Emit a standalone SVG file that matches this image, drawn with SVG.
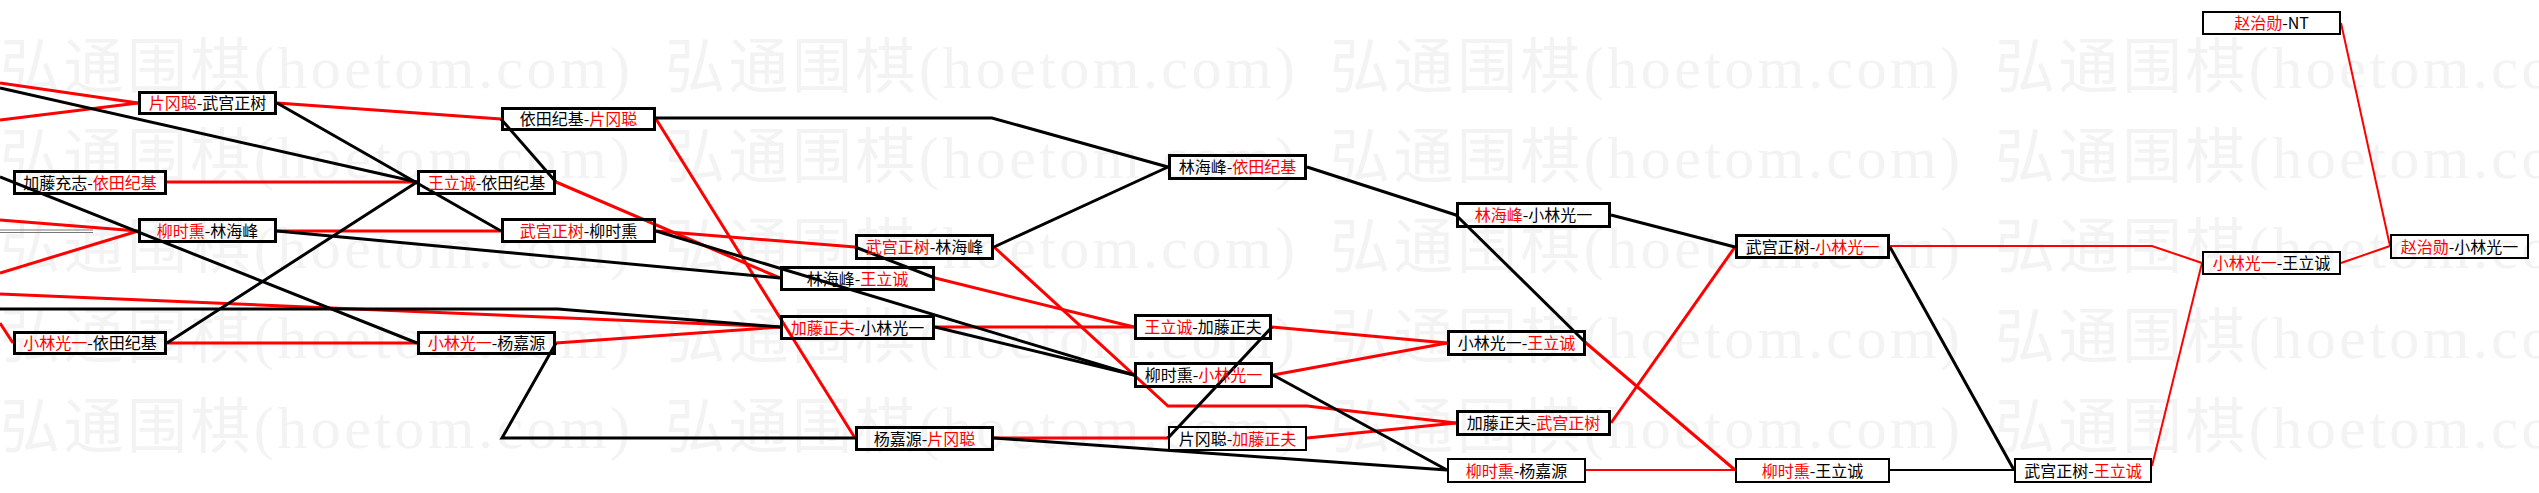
<svg xmlns="http://www.w3.org/2000/svg" width="2539" height="493" viewBox="0 0 2539 493">
<style>
.wm{font-family:"Liberation Serif","Noto Sans CJK SC",serif;font-size:60px;fill:#f3f3f3}
.box{fill:none;stroke:#000;stroke-width:3}
.box.thin{stroke-width:2}
.lb{font-family:"Noto Sans CJK SC","Noto Sans",sans-serif;font-size:16px;fill:#000;text-anchor:middle}
.r{fill:#ff0000}
.cr{fill:none;stroke:#ff0000;stroke-width:3}
.ck{fill:none;stroke:#000;stroke-width:3}
.th{stroke-width:2}
.gr{stroke:#777;stroke-width:1;fill:none}
</style>
<rect width="2539" height="493" fill="#ffffff"/>
<g id="watermark">
<text class="wm" x="0" y="88" textLength="630" lengthAdjust="spacing">弘通围棋(hoetom.com)</text>
<text class="wm" x="665" y="88" textLength="630" lengthAdjust="spacing">弘通围棋(hoetom.com)</text>
<text class="wm" x="1330" y="88" textLength="630" lengthAdjust="spacing">弘通围棋(hoetom.com)</text>
<text class="wm" x="1995" y="88" textLength="630" lengthAdjust="spacing">弘通围棋(hoetom.com)</text>
<text class="wm" x="0" y="178" textLength="630" lengthAdjust="spacing">弘通围棋(hoetom.com)</text>
<text class="wm" x="665" y="178" textLength="630" lengthAdjust="spacing">弘通围棋(hoetom.com)</text>
<text class="wm" x="1330" y="178" textLength="630" lengthAdjust="spacing">弘通围棋(hoetom.com)</text>
<text class="wm" x="1995" y="178" textLength="630" lengthAdjust="spacing">弘通围棋(hoetom.com)</text>
<text class="wm" x="0" y="268" textLength="630" lengthAdjust="spacing">弘通围棋(hoetom.com)</text>
<text class="wm" x="665" y="268" textLength="630" lengthAdjust="spacing">弘通围棋(hoetom.com)</text>
<text class="wm" x="1330" y="268" textLength="630" lengthAdjust="spacing">弘通围棋(hoetom.com)</text>
<text class="wm" x="1995" y="268" textLength="630" lengthAdjust="spacing">弘通围棋(hoetom.com)</text>
<text class="wm" x="0" y="358" textLength="630" lengthAdjust="spacing">弘通围棋(hoetom.com)</text>
<text class="wm" x="665" y="358" textLength="630" lengthAdjust="spacing">弘通围棋(hoetom.com)</text>
<text class="wm" x="1330" y="358" textLength="630" lengthAdjust="spacing">弘通围棋(hoetom.com)</text>
<text class="wm" x="1995" y="358" textLength="630" lengthAdjust="spacing">弘通围棋(hoetom.com)</text>
<text class="wm" x="0" y="448" textLength="630" lengthAdjust="spacing">弘通围棋(hoetom.com)</text>
<text class="wm" x="665" y="448" textLength="630" lengthAdjust="spacing">弘通围棋(hoetom.com)</text>
<text class="wm" x="1330" y="448" textLength="630" lengthAdjust="spacing">弘通围棋(hoetom.com)</text>
<text class="wm" x="1995" y="448" textLength="630" lengthAdjust="spacing">弘通围棋(hoetom.com)</text>
</g>
<g id="connectors">
<line class="gr" x1="0" y1="230" x2="93" y2="230"/>
<line class="gr" x1="0" y1="232.5" x2="93" y2="232.5"/>
<polyline class="cr" points="0,83 138,103"/>
<polyline class="cr" points="0,120 138,103"/>
<polyline class="cr" points="0,220 138,231"/>
<polyline class="cr" points="0,273 138,231"/>
<polyline class="cr" points="0,323 13,343"/>
<polyline class="cr" points="167,182 417,182"/>
<polyline class="cr" points="167,343 417,343"/>
<polyline class="cr" points="277,103 501,119"/>
<polyline class="cr" points="277,231 501,231"/>
<polyline class="cr" points="0,294 780,327"/>
<polyline class="cr" points="556,343 780,327"/>
<polyline class="cr" points="556,182 780,278"/>
<polyline class="cr" points="656,119 855,438"/>
<polyline class="cr" points="656,231 855,247"/>
<polyline class="cr" points="935,278 1134,327"/>
<polyline class="cr" points="935,327 1134,327"/>
<polyline class="cr" points="994,247 1168,406 1307,406 1456,423"/>
<polyline class="cr" points="994,438 1168,438"/>
<polyline class="cr" points="1272,327 1447,343"/>
<polyline class="cr" points="1273,375 1447,343"/>
<polyline class="cr" points="1307,438 1456,423"/>
<polyline class="cr" points="1586,343 1735,470"/>
<polyline class="cr" points="1611,423 1735,247"/>
<polyline class="cr th" points="1586,470 1735,470"/>
<polyline class="cr th" points="1890,246 2152,246 2202,263"/>
<polyline class="cr th" points="2152,466 2202,263"/>
<polyline class="cr th" points="2341,263 2390,246"/>
<polyline class="cr th" points="2341,23 2390,246"/>
<polyline class="ck" points="0,88 417,182"/>
<polyline class="ck" points="0,177 417,343"/>
<polyline class="ck" points="167,343 417,182"/>
<polyline class="ck" points="277,103 501,231"/>
<polyline class="ck" points="277,231 780,278"/>
<polyline class="ck" points="0,309 558,309 780,327"/>
<polyline class="ck" points="556,343 502,438 855,438"/>
<polyline class="ck" points="556,182 501,119"/>
<polyline class="ck" points="656,118 992,118 1168,167"/>
<polyline class="ck" points="656,231 1134,375"/>
<polyline class="ck" points="935,278 855,247"/>
<polyline class="ck" points="935,327 1134,375"/>
<polyline class="ck" points="994,247 1168,167"/>
<polyline class="ck" points="994,438 1447,470"/>
<polyline class="ck" points="1272,327 1168,438"/>
<polyline class="ck" points="1273,375 1447,470"/>
<polyline class="ck" points="1307,167 1456,215"/>
<polyline class="ck" points="1586,343 1456,215"/>
<polyline class="ck" points="1611,215 1735,247"/>
<polyline class="ck" points="1890,247 2014,470"/>
<polyline class="ck th" points="1890,470 2014,470"/>
</g>
<g id="n-A1"><rect class="box" x="14.5" y="171.5" width="151" height="22"/><text class="lb" x="90" y="188.5">加藤充志-<tspan class="r">依田纪基</tspan></text></g>
<g id="n-A2"><rect class="box" x="14.5" y="332.5" width="151" height="21"/><text class="lb" x="90" y="349"><tspan class="r">小林光一</tspan>-依田纪基</text></g>
<g id="n-B1"><rect class="box" x="139.5" y="92.5" width="136" height="21"/><text class="lb" x="207.5" y="109"><tspan class="r">片冈聪</tspan>-武宫正树</text></g>
<g id="n-B2"><rect class="box" x="139.5" y="219.5" width="136" height="22"/><text class="lb" x="207.5" y="236.5"><tspan class="r">柳时熏</tspan>-林海峰</text></g>
<g id="n-C1"><rect class="box" x="418.5" y="171.5" width="136" height="22"/><text class="lb" x="486.5" y="188.5"><tspan class="r">王立诚</tspan>-依田纪基</text></g>
<g id="n-C2"><rect class="box" x="418.5" y="332.5" width="136" height="21"/><text class="lb" x="486.5" y="349"><tspan class="r">小林光一</tspan>-杨嘉源</text></g>
<g id="n-D1"><rect class="box" x="502.5" y="108.5" width="152" height="21"/><text class="lb" x="578.5" y="125">依田纪基-<tspan class="r">片冈聪</tspan></text></g>
<g id="n-D2"><rect class="box" x="502.5" y="219.5" width="152" height="22"/><text class="lb" x="578.5" y="236.5"><tspan class="r">武宫正树</tspan>-柳时熏</text></g>
<g id="n-E1"><rect class="box" x="781.5" y="267.5" width="152" height="22"/><text class="lb" x="857.5" y="284.5">林海峰-<tspan class="r">王立诚</tspan></text></g>
<g id="n-E2"><rect class="box" x="781.5" y="316.5" width="152" height="22"/><text class="lb" x="857.5" y="333.5"><tspan class="r">加藤正夫</tspan>-小林光一</text></g>
<g id="n-F1"><rect class="box" x="856.5" y="235.5" width="136" height="23"/><text class="lb" x="924.5" y="253"><tspan class="r">武宫正树</tspan>-林海峰</text></g>
<g id="n-F2"><rect class="box" x="856.5" y="427.5" width="136" height="22"/><text class="lb" x="924.5" y="444.5">杨嘉源-<tspan class="r">片冈聪</tspan></text></g>
<g id="n-G1"><rect class="box" x="1135.5" y="315.5" width="135" height="23"/><text class="lb" x="1203" y="333"><tspan class="r">王立诚</tspan>-加藤正夫</text></g>
<g id="n-G2"><rect class="box" x="1135.5" y="363.5" width="136" height="23"/><text class="lb" x="1203.5" y="381">柳时熏-<tspan class="r">小林光一</tspan></text></g>
<g id="n-H1"><rect class="box" x="1169.5" y="155.5" width="136" height="23"/><text class="lb" x="1237.5" y="173">林海峰-<tspan class="r">依田纪基</tspan></text></g>
<g id="n-H2"><rect class="box thin" x="1169" y="427" width="137" height="23"/><text class="lb" x="1237.5" y="444.5">片冈聪-<tspan class="r">加藤正夫</tspan></text></g>
<g id="n-I1"><rect class="box" x="1457.5" y="203.5" width="152" height="23"/><text class="lb" x="1533.5" y="221"><tspan class="r">林海峰</tspan>-小林光一</text></g>
<g id="n-I2"><rect class="box" x="1448.5" y="331.5" width="136" height="23"/><text class="lb" x="1516.5" y="349">小林光一-<tspan class="r">王立诚</tspan></text></g>
<g id="n-I3"><rect class="box" x="1457.5" y="411.5" width="152" height="23"/><text class="lb" x="1533.5" y="429">加藤正夫-<tspan class="r">武宫正树</tspan></text></g>
<g id="n-I4"><rect class="box thin" x="1448" y="459" width="137" height="23"/><text class="lb" x="1516.5" y="476.5"><tspan class="r">柳时熏</tspan>-杨嘉源</text></g>
<g id="n-J1"><rect class="box" x="1736.5" y="235.5" width="152" height="22"/><text class="lb" x="1812.5" y="252.5">武宫正树-<tspan class="r">小林光一</tspan></text></g>
<g id="n-J2"><rect class="box thin" x="1736" y="459" width="153" height="23"/><text class="lb" x="1812.5" y="476.5"><tspan class="r">柳时熏</tspan>-王立诚</text></g>
<g id="n-K"><rect class="box thin" x="2015" y="459" width="136" height="23"/><text class="lb" x="2083" y="476.5">武宫正树-<tspan class="r">王立诚</tspan></text></g>
<g id="n-L1"><rect class="box thin" x="2203" y="12" width="137" height="22"/><text class="lb" x="2271.5" y="29"><tspan class="r">赵治勋</tspan>-NT</text></g>
<g id="n-L2"><rect class="box thin" x="2203" y="252" width="137" height="22"/><text class="lb" x="2271.5" y="269"><tspan class="r">小林光一</tspan>-王立诚</text></g>
<g id="n-M"><rect class="box thin" x="2391" y="235" width="137" height="23"/><text class="lb" x="2459.5" y="252.5"><tspan class="r">赵治勋</tspan>-小林光一</text></g>
</svg>
